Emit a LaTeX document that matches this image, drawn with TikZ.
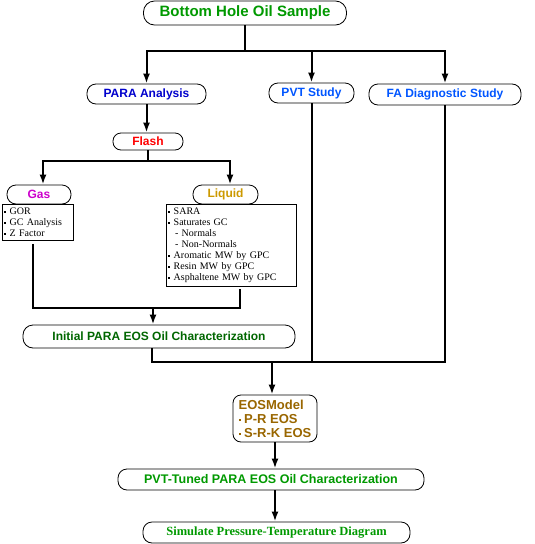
\documentclass[tikz,border=0pt]{standalone}
\usepackage{fontspec}
\setmainfont{Liberation Serif}
\setsansfont{Liberation Sans}
\usetikzlibrary{arrows.meta}
\usetikzlibrary{calc}
\definecolor{gn}{RGB}{0,153,0}
\definecolor{dg}{RGB}{0,102,0}
\definecolor{db}{RGB}{0,0,204}
\definecolor{lb}{RGB}{0,85,255}
\definecolor{mg}{RGB}{204,0,204}
\definecolor{gd}{RGB}{204,153,0}
\definecolor{br}{RGB}{153,102,0}
\newcommand{\sqb}{\rule[2pt]{2pt}{2pt}\ }

\begin{document}
\begin{tikzpicture}[x=1pt, y=-1pt,
    pill/.style={draw, line width=0.8pt, rounded corners=9pt, inner sep=0pt, font=\sffamily\bfseries\fontsize{12}{14}\selectfont},
    listbox/.style={draw, line width=0.8pt, inner xsep=2pt, inner ysep=2pt, align=left, anchor=north west, font=\fontsize{10}{11}\selectfont},
    link/.style={line width=2pt},
    arr/.style={line width=2pt, -{Latex[length=10pt,width=7pt]}}]
        \useasboundingbox (0,0) rectangle (535,544);
        % boxes
        \node[pill, text=gn, minimum width=203pt, minimum height=24pt, rounded corners=11pt, font=\sffamily\bfseries\fontsize{15}{17}\selectfont] (bhos) at (245,13) {Bottom Hole Oil Sample};
        \node[pill, text=db, minimum width=119pt, minimum height=20pt] (para) at (146.5,94) {PARA Analysis};
        \node[pill, text=lb, minimum width=85pt, minimum height=20pt] (pvt) at (311.5,93) {PVT Study};
        \node[pill, text=lb, minimum width=152pt, minimum height=21pt] (fa) at (445,94.5) {FA Diagnostic Study};
        \node[pill, text=red, minimum width=70pt, minimum height=17pt, rounded corners=8pt] (flash) at (148,141.5) {Flash};
        \node[pill, text=mg, minimum width=64pt, minimum height=19pt] (gas) at (39,194.5) {Gas};
        \node[pill, text=gd, minimum width=65pt, minimum height=19pt] (liquid) at (225.5,194.5) {Liquid};
        \node[listbox, text width=67pt, minimum height=36pt] (gaslist) at (2,204) {\sqb GOR\\ \sqb GC Analysis\\ \sqb Z Factor};
        \node[listbox, text width=126pt, minimum height=82pt] (liqlist) at (166,204) {\sqb SARA\\ \sqb Saturates GC\\ \ \ - Normals\\ \ \ - Non-Normals\\ \sqb Aromatic MW by GPC\\ \sqb Resin MW by GPC\\ \sqb Asphaltene MW by GPC};
        \node[pill, text=dg, minimum width=272pt, minimum height=23pt, rounded corners=10pt] (init) at (159,336.5) {Initial PARA EOS Oil Characterization};
        \node[draw, line width=0.8pt, rounded corners=8pt, text=br, minimum width=84pt, minimum height=47pt, align=left, font=\sffamily\bfseries\fontsize{13}{14}\selectfont] (eos) at (275,418.5) {EOSModel\\ \sqb P-R EOS\\ \sqb S-R-K EOS};
        \node[pill, text=gn, minimum width=306pt, minimum height=21pt, font=\sffamily\bfseries\fontsize{12.5}{14}\selectfont] (tuned) at (271,479.5) {PVT-Tuned PARA EOS Oil Characterization};
        \node[pill, text=gn, minimum width=267pt, minimum height=21pt, font=\rmfamily\bfseries\fontsize{12.5}{14}\selectfont] (sim) at (276.5,532.5) {Simulate Pressure-Temperature Diagram};
        % junctions
        \coordinate (top) at (245,51);
        \coordinate (fj) at (148,161);
        \coordinate (gasend) at (33,308);
        \coordinate (liqend) at (240,308);
        \coordinate (mj) at (153,308);
        \coordinate (ej) at (272,362);
        % connectors
        \draw[link] (bhos.south) -- (top);
        \draw[arr] (top) -| (para.north);
        \draw[arr] (top) -| (pvt.north);
        \draw[arr] (top) -| (fa.north);
        \draw[arr] (para.south) -- (para.south |- flash.north);
        \draw[link] (flash.south) -- (fj);
        \draw[arr] (fj) -| ([xshift=4pt]gas.north);
        \draw[arr] (fj) -| ([xshift=4.5pt]liquid.north);
        \draw[link] ([yshift=-3pt]gaslist.south -| gasend) -- (gasend) -- (liqend) -- ([yshift=-2pt]liqlist.south -| liqend);
        \draw[arr] (mj) -- (mj |- init.north);
        \draw[link] ([xshift=-7pt]init.south) |- (ej);
        \draw[link] (pvt.south) -- (pvt.south |- ej);
        \draw[link] (fa.south) |- (ej);
        \draw[arr] (ej) -- (ej |- eos.north);
        \draw[arr] (eos.south) -- (eos.south |- tuned.north);
        \draw[arr] (tuned.south -| eos) -- (sim.north -| eos);
    \end{tikzpicture}
\end{document}
